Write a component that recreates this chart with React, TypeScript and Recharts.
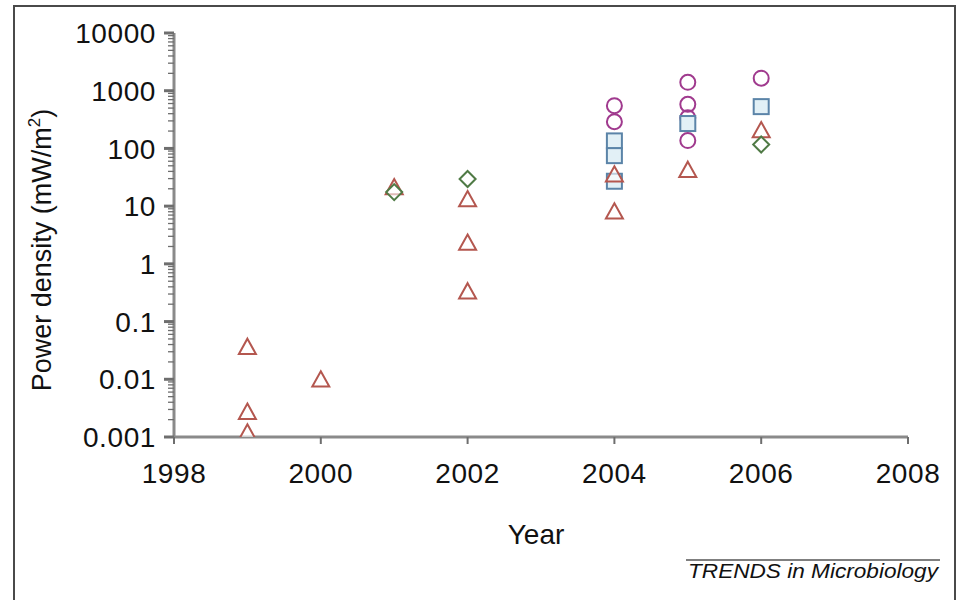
import React from "react";
import { ScatterChart, Scatter, XAxis, YAxis } from "recharts";

const triangleX = [1999, 1999, 1999, 2000, 2001, 2002, 2002, 2002, 2004, 2004, 2005, 2006];
const triangleY = [0.036, 0.0027, 0.00118, 0.0098, 21, 13, 2.3, 0.33, 35, 8, 42, 205];

const circleX = [2004, 2004, 2005, 2005, 2005, 2005, 2006];
const circleY = [550, 290, 1400, 580, 340, 137, 1650];

const squareX = [2004, 2004, 2004, 2005, 2006];
const squareY = [135, 75, 27, 270, 530];

const diamondX = [2001, 2002, 2006];
const diamondY = [17.5, 29.5, 117];

const xTicks = [1998, 2000, 2002, 2004, 2006, 2008];
const yMajorTicks = [0.001, 0.01, 0.1, 1, 10, 100, 1000, 10000];
const yMajorLabels = ["0.001", "0.01", "0.1", "1", "10", "100", "1000", "10000"];
const yMinorMultipliers = [2, 3, 4, 5, 6, 7, 8, 9];

const yTicks: number[] = [];
yMajorTicks.forEach((m, i) => {
  yTicks.push(m);
  if (i < yMajorTicks.length - 1) yMinorMultipliers.forEach((k) => yTicks.push(m * k));
});

const toPoints = (xs: number[], ys: number[]) => xs.map((x, i) => ({ x, y: ys[i] }));

const FONT = "'Liberation Sans', Arial, Helvetica, sans-serif";
const AXIS = "#8a8a8a";
const TEXT = "#111111";

const TRI = "#b4574f";
const CIRC = "#a03a8e";
const SQ = "#5b84a8";
const SQFILL = "#e2f0f6";
const DIA = "#4f7a45";

const YTick = (props: any) => {
  const { x, y, payload } = props;
  const idx = yMajorTicks.findIndex((m) => Math.abs(m - payload.value) / m < 1e-6);
  const major = idx >= 0;
  return (
    <g>
      <line x1={x} x2={x - (major ? 10 : 6)} y1={y} y2={y} stroke="#6e6e6e" strokeWidth={major ? 3 : 1.3} />
      {major && (
        <text x={x - 18} y={y} dy="0.36em" textAnchor="end" fontSize={28} fontFamily={FONT} fill={TEXT} letterSpacing={0.6}>
          {yMajorLabels[idx]}
        </text>
      )}
    </g>
  );
};

const XTick = (props: any) => {
  const { x, y, payload } = props;
  return (
    <g>
      <line x1={x} x2={x} y1={y} y2={y + 7} stroke="#6e6e6e" strokeWidth={2} />
      <text x={x} y={y + 46} textAnchor="middle" fontSize={28} fontFamily={FONT} fill={TEXT} letterSpacing={0.6}>
        {String(payload.value)}
      </text>
    </g>
  );
};

const Triangle = (props: any) => {
  const { cx, cy } = props;
  const s = 8.5;
  return (
    <path
      d={`M${cx},${cy - s} L${cx + s},${cy + s * 0.8} L${cx - s},${cy + s * 0.8} Z`}
      fill="#ffffff"
      fillOpacity={0.6}
      stroke={TRI}
      strokeWidth={2}
    />
  );
};

const Circle = (props: any) => {
  const { cx, cy } = props;
  return <circle cx={cx} cy={cy} r={7.5} fill="none" stroke={CIRC} strokeWidth={2} />;
};

const Square = (props: any) => {
  const { cx, cy } = props;
  const s = 7.5;
  return <rect x={cx - s} y={cy - s} width={2 * s} height={2 * s} fill={SQFILL} stroke={SQ} strokeWidth={2} />;
};

const Diamond = (props: any) => {
  const { cx, cy } = props;
  const s = 8;
  return (
    <path
      d={`M${cx},${cy - s} L${cx + s},${cy} L${cx},${cy + s} L${cx - s},${cy} Z`}
      fill="#ffffff"
      fillOpacity={0.6}
      stroke={DIA}
      strokeWidth={2}
    />
  );
};

const YLabel = () => (
  <text
    x={0}
    y={0}
    transform="translate(51, 250) rotate(-90)"
    textAnchor="middle"
    fontSize={27}
    fontFamily={FONT}
    fill={TEXT}
  >
    Power density (mW/m
    <tspan fontSize={17} dy={-11}>2</tspan>
    <tspan dy={11}>)</tspan>
  </text>
);

const XLabel = () => (
  <text x={536} y={544} textAnchor="middle" fontSize={28} fontFamily={FONT} fill={TEXT}>
    Year
  </text>
);

export default function App() {
  return (
    <div style={{ position: "absolute", left: 0, top: 0, width: 961, height: 600, background: "#fff", overflow: "hidden" }}>
      <div
        style={{
          position: "absolute",
          left: 13,
          top: 5,
          width: 939,
          height: 640,
          borderLeft: "2.5px solid #4a4a4a",
          borderTop: "2.5px solid #4a4a4a",
          borderRight: "2.5px solid #4a4a4a",
        }}
      />
      <div style={{ position: "absolute", left: 0, top: 0 }}>
        <ScatterChart width={961} height={600} margin={{ top: 33, right: 53, bottom: 103, left: 74 }}>
          <XAxis
            type="number"
            dataKey="x"
            domain={[1998, 2008]}
            ticks={xTicks}
            interval={0}
            height={60}
            tickSize={0}
            tickMargin={0}
            tickLine={false}
            axisLine={{ stroke: AXIS, strokeWidth: 3 }}
            tick={<XTick />}
            label={<XLabel />}
          />
          <YAxis
            type="number"
            dataKey="y"
            scale="log"
            domain={[0.001, 10000]}
            allowDataOverflow
            ticks={yTicks}
            interval={0}
            width={100}
            tickSize={0}
            tickMargin={0}
            tickLine={false}
            axisLine={{ stroke: AXIS, strokeWidth: 3 }}
            tick={<YTick />}
            label={<YLabel />}
          />
          <Scatter data={toPoints(circleX, circleY)} shape={<Circle />} isAnimationActive={false} />
          <Scatter data={toPoints(squareX, squareY)} shape={<Square />} isAnimationActive={false} />
          <Scatter data={toPoints(triangleX, triangleY)} shape={<Triangle />} isAnimationActive={false} />
          <Scatter data={toPoints(diamondX, diamondY)} shape={<Diamond />} isAnimationActive={false} />
        </ScatterChart>
      </div>
      <svg style={{ position: "absolute", left: 0, top: 0 }} width={961} height={600}>
        <line x1={686} x2={940} y1={560} y2={560} stroke="#555" strokeWidth={1.5} />
        <text
          x={688}
          y={578}
          fontSize={20}
          fontStyle="italic"
          fontFamily={FONT}
          fill={TEXT}
          textLength={250}
          lengthAdjust="spacingAndGlyphs"
        >
          TRENDS in Microbiology
        </text>
      </svg>
    </div>
  );
}
